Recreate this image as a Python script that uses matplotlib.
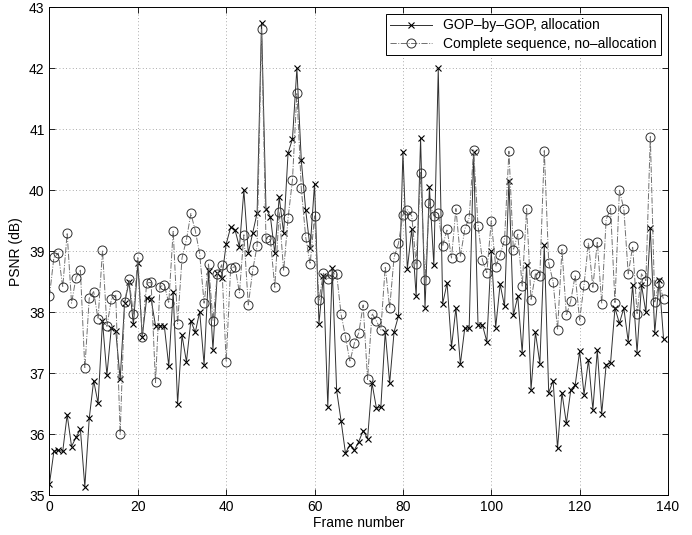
import numpy as np
import matplotlib
matplotlib.use('Agg')
from matplotlib import pyplot as plt

# PSNR per frame
gop_psnr = [
    35.19, 35.72, 35.74, 35.72, 36.32, 35.80, 35.95, 36.08, 35.14, 36.26,
    36.88, 36.51, 37.85, 36.97, 37.75, 37.70, 36.90, 38.15, 38.50, 37.80,
    38.80, 37.60, 38.23, 38.22, 37.78, 37.78, 37.77, 37.12, 38.34, 36.50,
    37.62, 37.19, 37.86, 37.67, 38.01, 37.14, 38.67, 37.39, 38.64, 38.56,
    39.12, 39.39, 39.35, 39.07, 40.00, 38.97, 39.30, 39.63, 42.75, 39.70,
    39.57, 38.97, 39.89, 39.30, 40.61, 40.84, 42.00, 40.49, 39.67, 39.05,
    40.11, 37.81, 38.60, 36.45, 38.72, 36.72, 36.22, 35.69, 35.83, 35.74,
    35.88, 36.06, 35.93, 36.84, 36.43, 36.44, 37.68, 36.84, 37.68, 37.94,
    40.62, 38.71, 39.36, 38.26, 40.85, 38.07, 40.05, 38.77, 42.00, 38.14,
    38.48, 37.43, 38.07, 37.15, 37.74, 37.74, 40.62, 37.79, 37.79, 37.52,
    39.00, 37.75, 38.46, 38.10, 40.16, 37.95, 38.26, 37.34, 38.78, 36.73,
    37.67, 37.16, 39.10, 36.68, 36.88, 35.77, 36.68, 36.18, 36.73, 36.81,
    37.36, 36.65, 37.22, 36.40, 37.38, 36.34, 37.14, 37.17, 38.07, 37.82,
    38.07, 37.52, 38.45, 37.34, 38.45, 38.00, 39.38, 37.66, 38.53, 37.56,
]

complete_psnr = [
    38.27, 38.90, 38.97, 38.41, 39.30, 38.15, 38.57, 38.69, 37.08, 38.23,
    38.34, 37.89, 39.02, 37.77, 38.21, 38.28, 36.00, 38.17, 38.54, 37.97,
    38.91, 37.60, 38.48, 38.49, 36.85, 38.42, 38.45, 38.15, 39.34, 37.81,
    38.89, 39.19, 39.62, 39.34, 38.96, 38.15, 38.79, 37.86, 38.63, 38.78,
    37.19, 38.72, 38.75, 38.32, 39.27, 38.12, 38.69, 39.09, 42.64, 39.21,
    39.19, 38.41, 39.65, 38.68, 39.54, 40.17, 41.60, 40.03, 39.23, 38.79,
    39.58, 38.20, 38.64, 38.54, 38.63, 38.63, 37.97, 37.60, 37.19, 37.49,
    37.66, 38.12, 36.90, 37.98, 37.86, 37.71, 38.75, 38.07, 38.90, 39.13,
    39.60, 39.68, 39.58, 38.79, 40.29, 38.53, 39.79, 39.58, 39.62, 39.09,
    39.36, 38.89, 39.70, 38.91, 39.36, 39.55, 40.66, 39.42, 38.85, 38.65,
    39.50, 38.75, 38.94, 39.19, 40.64, 39.02, 39.28, 38.43, 39.70, 38.20,
    38.63, 38.60, 40.65, 38.81, 38.50, 37.71, 39.03, 37.95, 38.19, 38.61,
    37.87, 38.45, 39.14, 38.41, 39.16, 38.14, 39.52, 39.70, 38.16, 40.00,
    39.70, 38.63, 39.08, 37.98, 38.63, 38.52, 40.88, 38.17, 38.48, 38.21,
]

frames = np.arange(len(gop_psnr))

plt.rcParams['font.family'] = ['Liberation Sans', 'DejaVu Sans']
plt.rcParams['font.size'] = 10

fig = plt.figure(figsize=(6.92, 5.35), dpi=100)
ax = fig.add_axes([0.0715, 0.0742, 0.8938, 0.9122])

ax.plot(frames, gop_psnr, '-', color='#303030', lw=0.7, marker='x',
        ms=4.5, mew=0.8, mec='black', label='GOP\u2013by\u2013GOP, allocation')
ax.plot(frames, complete_psnr, '-.', color='#707070', lw=0.7, marker='o',
        ms=6.5, mew=0.7, mfc='none', mec='#303030',
        label='Complete sequence, no\u2013allocation')

ax.set_xlim(0, 140)
ax.set_ylim(35, 43)
ax.set_xticks(np.arange(0, 141, 20))
ax.set_yticks(np.arange(35, 44, 1))
ax.grid(True, linestyle=(0, (1, 3)), color='#909090', lw=0.6)
ax.tick_params(direction='in', top=True, right=True, length=4, width=0.6)
for s in ax.spines.values():
    s.set_linewidth(0.7)

ax.set_xlabel('Frame number', labelpad=1)
ax.set_ylabel('PSNR (dB)', labelpad=4)

leg = ax.legend(loc='upper right', fancybox=False, edgecolor='black',
                framealpha=1, borderaxespad=0.5, handlelength=3,
                borderpad=0.3, labelspacing=0.3)
leg.get_frame().set_linewidth(0.7)

fig.savefig('out.png', dpi=100)
